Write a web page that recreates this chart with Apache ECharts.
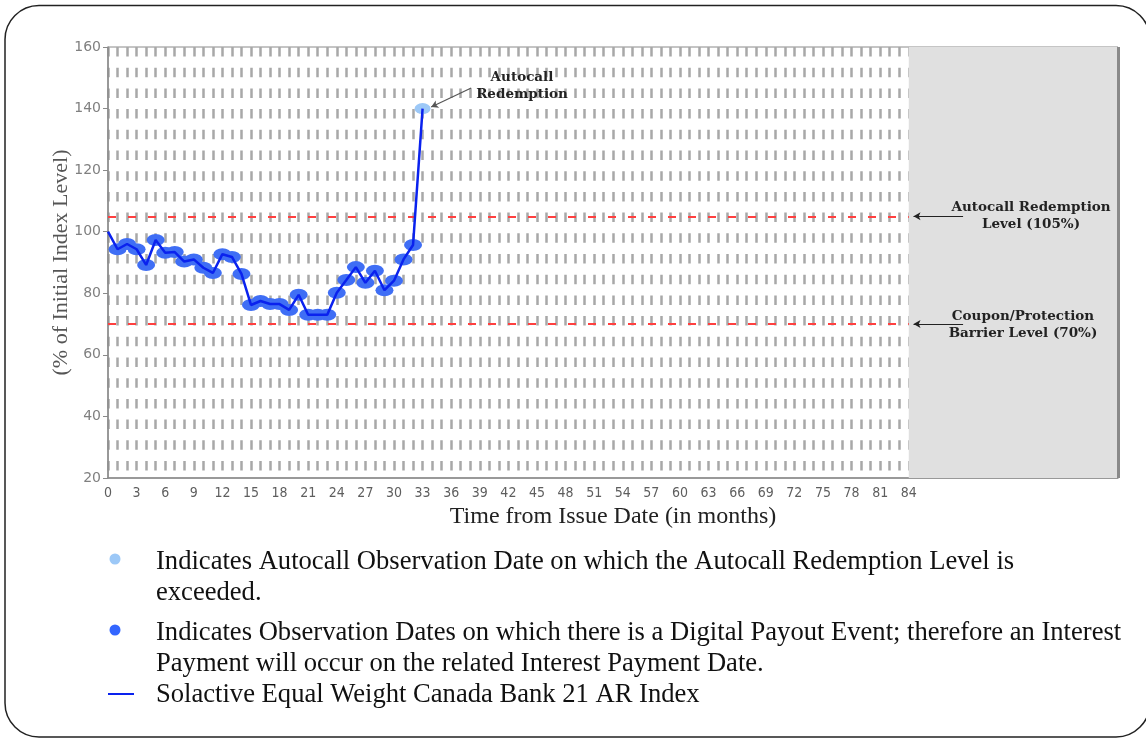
<!DOCTYPE html>
<html>
<head>
<meta charset="utf-8">
<script src="https://cdn.jsdelivr.net/npm/echarts@6/dist/echarts.min.js"></script>
<style>
html,body{margin:0;padding:0;background:#fff;}
#chart{width:1146px;height:738px;}
</style>
</head>
<body>
<div id="chart"></div>
<script>
// ---- data ----
const months = [0,1,2,3,4,5,6,7,8,9,10,11,12,13,14,15,16,17,18,19,20,21,22,23,24,25,26,27,28,29,30,31,32,33];
const indexLevels = [100,94.3,96,94.3,89.2,97.3,93.2,93.4,90.3,91,88.3,86.6,92.7,91.8,86.3,76.2,77.5,76.5,76.5,74.6,79.5,73,73,73,80.2,84.3,88.5,83.4,87.3,81,84.1,91,95.7,140];
const payoutMonths = [1,2,3,4,5,6,7,8,9,10,11,12,13,14,15,16,17,18,19,20,21,22,23,24,25,26,27,28,29,30,31,32];
const autocallMonths = [33];
const autocallLevel = 105;
const barrierLevel = 70;
const termMonths = 84;
const xTickLabels = [0,3,6,9,12,15,18,21,24,27,30,33,36,39,42,45,48,51,54,57,60,63,66,69,72,75,78,81,84];
const yTicks = [20,40,60,80,100,120,140,160];
const seriesNames = ['Solactive Equal Weight Canada Bank 21 AR Index','Digital Payout','Autocall'];
const legendTexts = [
  'Indicates Autocall Observation Date on which the Autocall Redemption Level is\nexceeded.',
  'Indicates Observation Dates on which there is a Digital Payout Event; therefore an Interest\nPayment will occur on the related Interest Payment Date.',
  'Solactive Equal Weight Canada Bank 21 AR Index'
];

const lineData = months.map((m,i)=>[m, indexLevels[i]]);
const payoutData = payoutMonths.map(m=>[m, indexLevels[months.indexOf(m)]]);
const autocallData = autocallMonths.map(m=>[m, indexLevels[months.indexOf(m)]]);

const serif = '"Liberation Serif","Times New Roman",serif';
const annFont = '"DejaVu Serif",serif';
const xMax = 105.95;

const chart = echarts.init(document.getElementById('chart'), null, {renderer:'canvas'});
chart.setOption({
  animation:false,
  backgroundColor:'#ffffff',
  grid:{left:108, top:47, right:28, bottom:260, show:true, borderColor:'#8a8a8a', borderWidth:1, backgroundColor:'transparent'},
  xAxis:{
    type:'value', min:0, max:xMax, interval:1,
    name:'Time from Issue Date (in months)', nameLocation:'middle', nameGap:26,
    nameTextStyle:{fontFamily:serif, fontSize:24, color:'#222'},
    axisLine:{show:true, lineStyle:{color:'#8a8a8a', width:1.5}},
    axisTick:{show:false},
    axisLabel:{margin:8, color:'#5e5e5e', fontSize:14, showMaxLabel:false, fontFamily:'"Liberation Sans Narrow","DejaVu Sans Condensed","DejaVu Sans",sans-serif',
      formatter:v=> xTickLabels.indexOf(v)>=0 ? String(v) : ''},
    splitLine:{show:true, lineStyle:{color:'#a8a8a8', width:2.5, type:[9.5,11.2]}}
  },
  yAxis:{
    type:'value', min:yTicks[0], max:yTicks[yTicks.length-1], interval:20,
    name:'(% of Initial Index Level)', nameLocation:'middle', nameGap:36, nameMoveOverlap:false,
    nameTextStyle:{fontFamily:serif, fontSize:22, color:'#555'},
    axisLine:{show:true, lineStyle:{color:'#8a8a8a', width:1.5}},
    axisTick:{show:true, length:5, lineStyle:{color:'#8a8a8a'}},
    axisLabel:{margin:7, color:'#808080', fontSize:14, fontFamily:'"DejaVu Sans",sans-serif'},
    splitLine:{show:false}
  },
  series:[
    {
      name:seriesNames[0], type:'line', data:lineData, showSymbol:false, z:5,
      lineStyle:{color:'#0a22ee', width:2.5}, itemStyle:{color:'#0a22ee'},
      markArea:{silent:true, itemStyle:{color:'#e0e0e0'}, data:[[{xAxis:termMonths},{xAxis:xMax}]]},
      markLine:{silent:true, symbol:'none', label:{show:false},
        lineStyle:{color:'#ff4040', width:2, type:[8,12]},
        data:[
          [{coord:[0,autocallLevel]},{coord:[termMonths,autocallLevel]}],
          [{coord:[0,barrierLevel]},{coord:[termMonths,barrierLevel]}],
          {xAxis:xMax, lineStyle:{color:'#8a8a8a', type:'solid', width:3}}
        ]}
    },
    {
      name:seriesNames[1], type:'scatter', data:payoutData, symbol:'circle', symbolSize:[18,12], z:3,
      itemStyle:{color:'#3f6ef5', opacity:1},
      markLine:{silent:true, symbol:['arrow','none'], symbolSize:[6,7], label:{show:false},
        lineStyle:{color:'#222', width:1, type:'solid'},
        data:[
          [{coord:[84.5,autocallLevel]},{coord:[89.7,autocallLevel]}],
          [{coord:[84.5,barrierLevel]},{coord:[89.7,barrierLevel]}]
        ]}
    },
    {
      name:seriesNames[2], type:'scatter', data:autocallData, symbol:'circle', symbolSize:[16,11], z:3,
      itemStyle:{color:'#9cc8f7', opacity:1},
      markLine:{silent:true, symbol:['none','arrow'], symbolSize:[6,7], label:{show:false},
        lineStyle:{color:'#555', width:1.2, type:'solid'},
        data:[[{coord:[38.1,146.7]},{coord:[33.9,140.5]}]]}
    }
  ],
  graphic:[
    {type:'rect', shape:{x:5, y:5.5, width:1145, height:731.5, r:34}, style:{fill:'none', stroke:'#222', lineWidth:1.5}, z:-1},
    {type:'text', x:522, y:86, style:{text:'Autocall\nRedemption', font:'bold 13.5px '+annFont, fill:'#222', textAlign:'center', textVerticalAlign:'middle', lineHeight:17}, z:10},
    {type:'text', x:1031, y:216, style:{text:'Autocall Redemption\nLevel (105%)', font:'bold 13.5px '+annFont, fill:'#222', textAlign:'center', textVerticalAlign:'middle', lineHeight:17}, z:10},
    {type:'text', x:1023, y:324.5, style:{text:'Coupon/Protection\nBarrier Level (70%)', font:'bold 13.5px '+annFont, fill:'#222', textAlign:'center', textVerticalAlign:'middle', lineHeight:17}, z:10},
    {type:'circle', shape:{cx:115, cy:559, r:5.5}, style:{fill:'#9cc8f7'}},
    {type:'circle', shape:{cx:115, cy:630, r:5.5}, style:{fill:'#3366ff'}},
    {type:'line', shape:{x1:108, y1:694, x2:134, y2:694}, style:{stroke:'#0a22ee', lineWidth:2}},
    {type:'text', x:156, y:547, style:{text:legendTexts[0], font:'26.6px '+serif, fill:'#111', lineHeight:31}},
    {type:'text', x:156, y:618, style:{text:legendTexts[1], font:'26.6px '+serif, fill:'#111', lineHeight:31}},
    {type:'text', x:156, y:680, style:{text:legendTexts[2], font:'26.6px '+serif, fill:'#111', lineHeight:31}}
  ]
});
</script>
</body>
</html>
